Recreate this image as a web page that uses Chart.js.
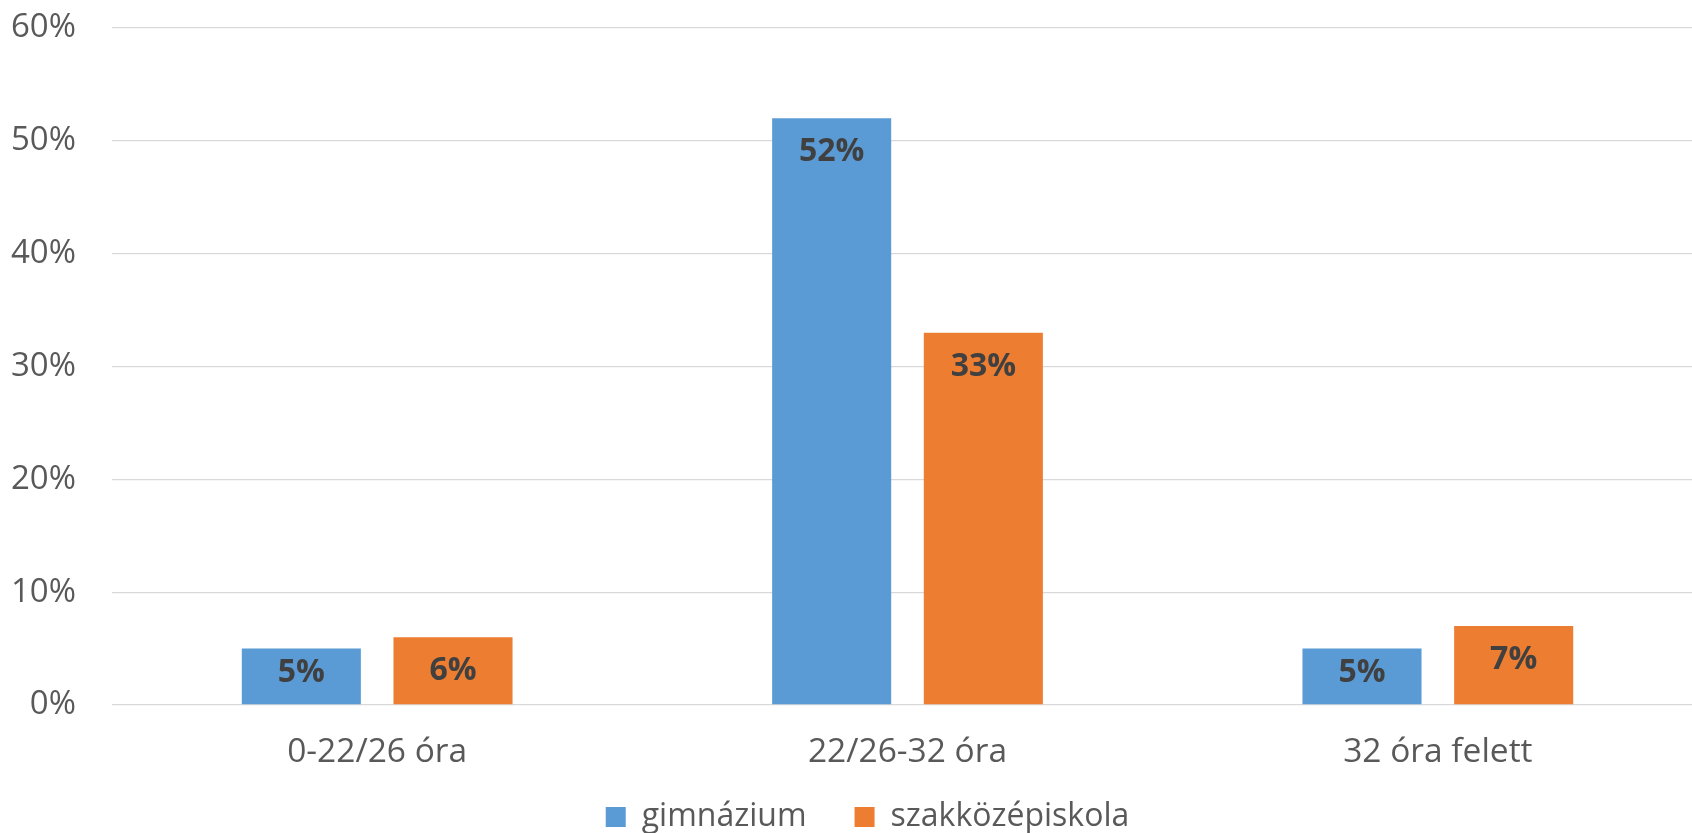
<!DOCTYPE html>
<html>
<head>
<meta charset="utf-8">
<script src="https://cdn.jsdelivr.net/npm/chart.js@4/dist/chart.umd.min.js"></script>
<style>
  html, body { margin: 0; padding: 0; background: #fff; overflow: hidden; }
  #wrap { width: 1703px; height: 833px; position: relative; }
</style>
</head>
<body>
<div id="wrap"><canvas id="oraChart"></canvas></div>
<script>
// categories and series (percent)
var categories = ['0-22/26 óra', '22/26-32 óra', '32 óra felett'];
var gimnazium = [5, 52, 5];
var szakkozep = [6, 33, 7];
var yTicks = [0, 10, 20, 30, 40, 50, 60];

var FONT = "'Open Sans', 'Noto Sans', sans-serif";

/**
 * Draws the value labels inside the top of each bar.
 */
var barLabels = {
    id: 'barLabels',
    afterDatasetsDraw: function(chart) {
        var ctx = chart.ctx;
        ctx.save();
        ctx.font = 'bold 32px ' + FONT;
        ctx.fillStyle = '#404040';
        ctx.textAlign = 'center';
        ctx.textBaseline = 'middle';
        chart.data.datasets.forEach(function(ds, i) {
            chart.getDatasetMeta(i).data.forEach(function(bar, j) {
                // keep the label inside the bar, like Excel does
                var y = Math.min(bar.y + 34, bar.base - 31);
                ctx.fillText(ds.data[j] + '%', bar.x, y);
            });
        });
        ctx.restore();
    }
};

/**
 * Nudges the legend so it sits where the original one does.
 */
var legendShift = {
    id: 'legendShift',
    afterLayout: function(chart) {
        var lg = chart.legend;
        lg.left += 24;
        lg.top -= 32;
        lg.bottom -= 32;
    }
};

var oraChart = new Chart(document.getElementById('oraChart').getContext('2d'), {
    type: 'bar',
    data: {
        labels: categories,
        datasets: [{
            label: 'gimnázium',
            data: gimnazium,
            backgroundColor: '#5B9BD5',
            barPercentage: 0.785,
            categoryPercentage: 0.572
        }, {
            label: 'szakközépiskola',
            data: szakkozep,
            backgroundColor: '#ED7D31',
            barPercentage: 0.785,
            categoryPercentage: 0.572
        }]
    },
    options: {
        responsive: true,
        maintainAspectRatio: false,
        animation: false,
        layout: { padding: { top: 28, left: 8, right: 0, bottom: -42 } },
        plugins: {
            tooltip: { enabled: false },
            legend: {
                position: 'bottom',
                labels: {
                    font: { family: FONT, size: 32 },
                    color: '#595959',
                    boxWidth: 20,
                    boxHeight: 20,
                    padding: 48
                }
            }
        },
        scales: {
            x: {
                grid: { display: false },
                border: { display: false },
                ticks: {
                    font: { family: FONT, size: 33.5 },
                    color: '#595959',
                    padding: 19
                },
                afterFit: function(scale) { scale.height = 80; }
            },
            y: {
                min: 0,
                max: 60,
                afterBuildTicks: function(scale) {
                    scale.ticks = yTicks.map(function(v) { return { value: v }; });
                },
                grid: { color: '#D9D9D9', lineWidth: 1.3, drawTicks: false },
                border: { display: false },
                ticks: {
                    font: { family: FONT, size: 33 },
                    color: '#595959',
                    padding: 36,
                    callback: function(v) { return v + '%'; }
                },
                afterFit: function(scale) {
                    scale.width = 104;
                    scale.paddingTop = 0;
                    scale.paddingBottom = 0;
                }
            }
        }
    },
    plugins: [barLabels, legendShift]
});
</script>
</body>
</html>
